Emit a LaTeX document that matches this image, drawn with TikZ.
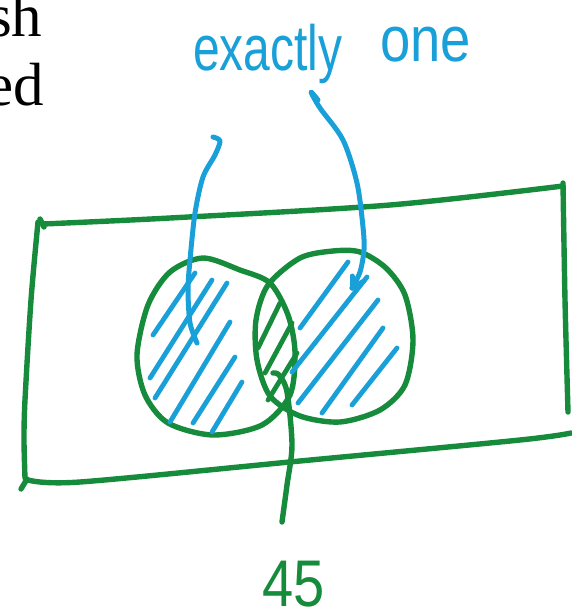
\documentclass[tikz,border=0pt]{standalone}
\usepackage{fontspec}
\setmainfont{Liberation Serif}
\newfontfamily\handfont{Liberation Sans}
\definecolor{pblue}{HTML}{1AA0D8}
\definecolor{pgreen}{HTML}{168B3B}
\begin{document}
\begin{tikzpicture}[x=1pt,y=-1pt,
  gline/.style={draw=pgreen,line width=5.4pt,line cap=round,line join=round},
  bline/.style={draw=pblue,line width=5pt,line cap=round,line join=round},
  hatchb/.style={draw=pblue,line width=4.8pt,line cap=round},
  hatchg/.style={draw=pgreen,line width=4.8pt,line cap=round},
  printtext/.style={anchor=base west,inner sep=0pt,font=\fontsize{61}{61}\selectfont},
  handtext/.style={anchor=base west,inner sep=0pt,text depth=0pt,font=\handfont\fontsize{64}{64}\selectfont}]
\useasboundingbox (0,0) rectangle (571,616);

% printed text fragments
\node[printtext] (sh) at (-12,36) {sh};
\node[printtext] (ed) at (-14,105) {ed};

% handwritten label
\node[handtext,text=pblue] (exactly) at (193,70) {\scalebox{0.75}[1]{exactly}};
\node[handtext,text=pblue] (one) at (380,61) {\scalebox{0.85}[1]{one}};

% rectangle (universe)
\draw[gline] plot[smooth] coordinates {(43,224) (170,218) (390,205) (563,186)};
\draw[gline] (40,219) -- (44,227);
\draw[gline] plot[smooth] coordinates {(38,222) (31,300) (25,400) (24,440) (25,478)};
\draw[gline] (27,479) -- (21,489);
\draw[gline] plot[smooth] coordinates {(28,480) (80,482) (300,461) (520,440) (571,433)};
\draw[gline] plot[smooth] coordinates {(563,183) (565,300) (568,412)};

% left circle
\draw[gline] plot[smooth cycle] coordinates {(203,258) (240,270) (270,283) (288,315) (295,352) (290,395) (262,425) (213,435) (168,423) (145,395) (137,355) (148,305) (170,272)};
% right circle
\draw[gline] plot[smooth cycle] coordinates {(300,258) (333,251) (360,252) (386,268) (405,295) (413,340) (405,385) (380,410) (340,422) (300,416) (270,396) (257,360) (256,320) (268,285)};

% blue hatching, left circle
\draw[hatchb] (153,335) -- (195,273);
\draw[hatchb] (150,378) -- (212,280);
\draw[hatchb] (155,398) -- (227,283);
\draw[hatchb] (170,422) -- (230,322);
\draw[hatchb] (193,423) -- (235,357);
\draw[hatchb] (212,432) -- (242,382);
% blue hatching, right circle
\draw[hatchb] (300,328) -- (348,262);
\draw[hatchb] (292,372) -- (367,277);
\draw[hatchb] (298,403) -- (378,300);
\draw[hatchb] (322,413) -- (383,328);
\draw[hatchb] (352,405) -- (397,348);
% green hatching, intersection
\draw[hatchg] (258,348) -- (280,303);
\draw[hatchg] (265,373) -- (292,323);
\draw[hatchg] (268,400) -- (297,353);

% pointer to 45
\coordinate (p0) at (273,373);
\node[handtext,text=pgreen,font=\handfont\fontsize{66}{66}\selectfont] (n45) at (262,606) {\scalebox{0.85}[1]{45}};
\draw[gline] plot[smooth] coordinates {(p0) (279,375) (287,392) (292,445) (287,485) (282,522)};

% blue arrows
\draw[bline] plot[smooth] coordinates {(213,137) (220,141) (215,155) (203,177) (195,213) (190,260) (188,290) (190,323) (197,343)};
\coordinate (tip) at (352,288);
\draw[bline] plot[smooth] coordinates {(318,100) (311,92) (320,108) (343,140) (357,183) (363,227) (364,250) (360,272) (tip)};
\draw[bline] (tip) -- (352,276);
\draw[bline] (tip) -- (364,281);
\end{tikzpicture}
\end{document}
